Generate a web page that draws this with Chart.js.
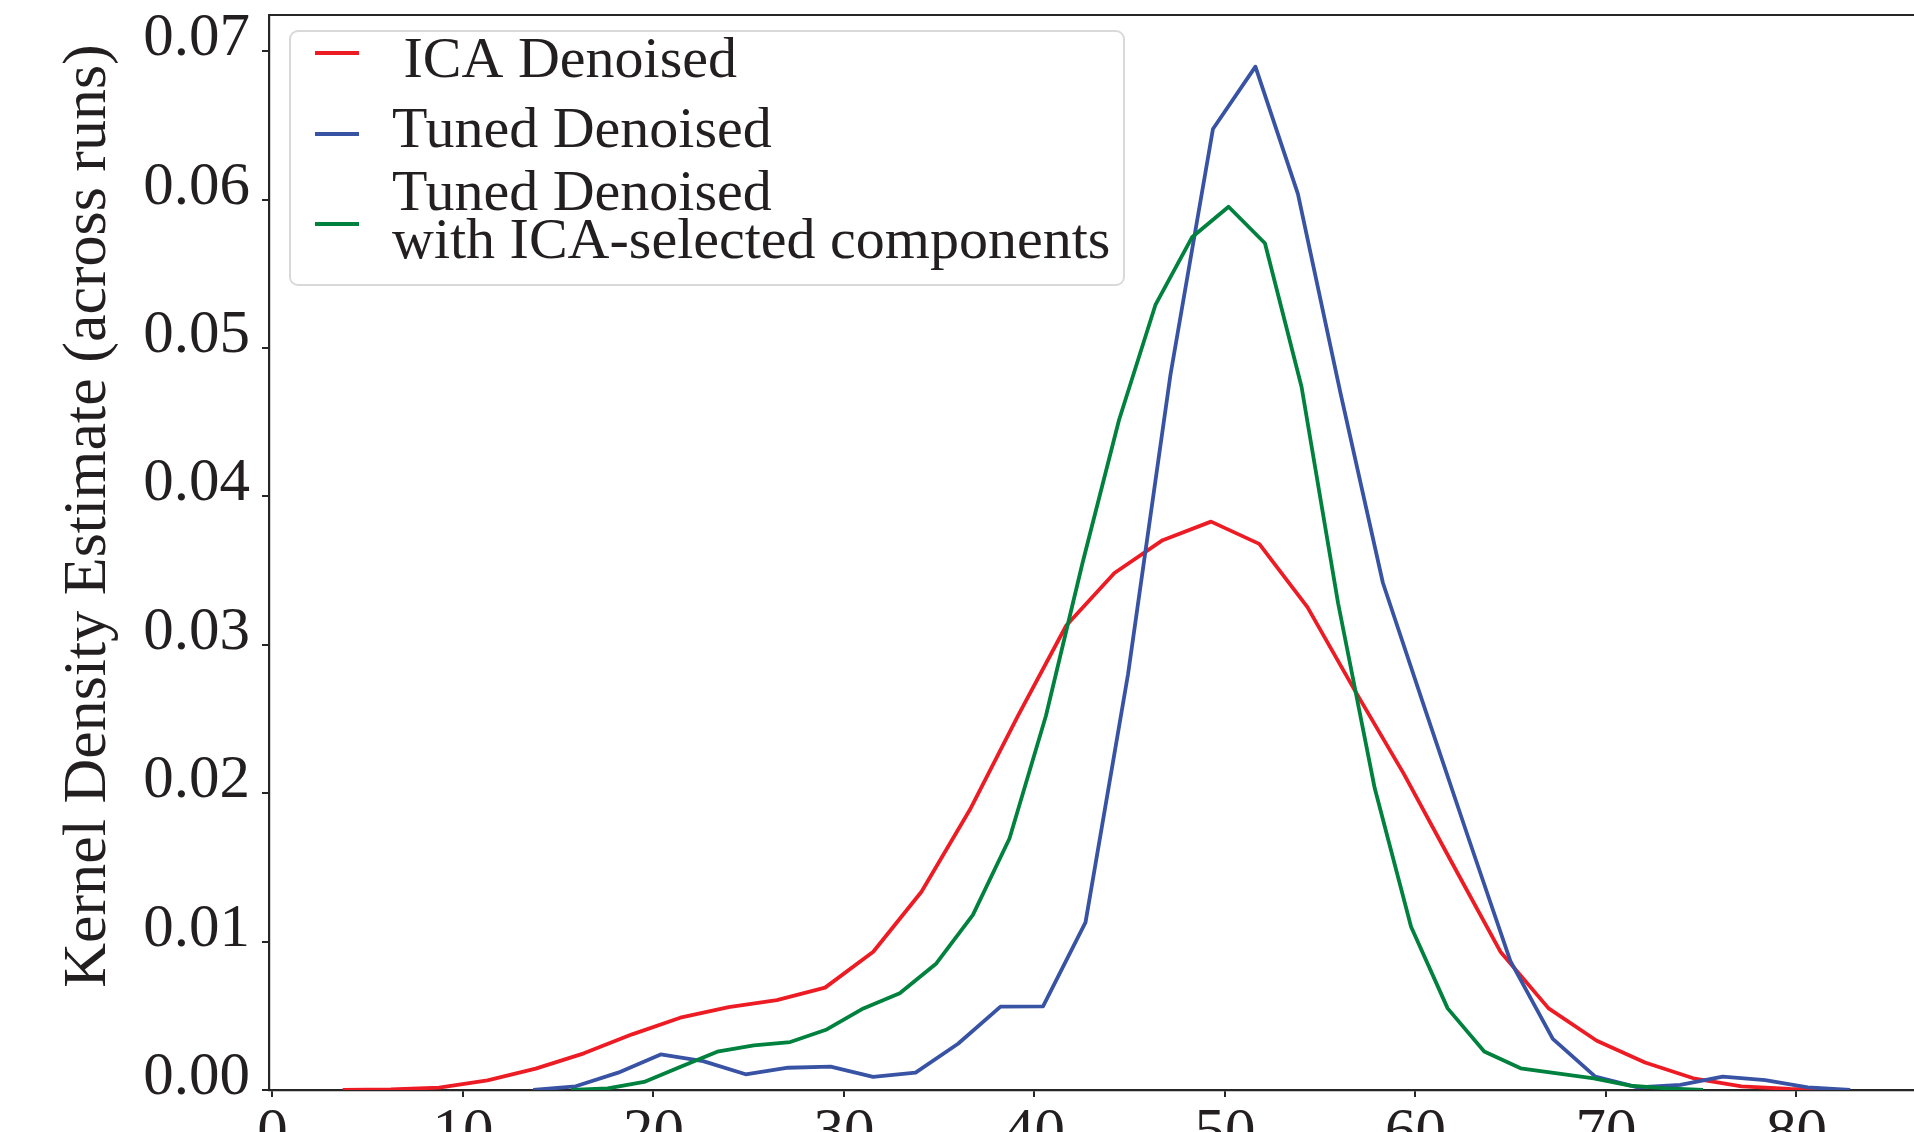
<!DOCTYPE html>
<html lang="en">
<head>
  <meta charset="UTF-8" />
  <title>Kernel Density Estimate (across runs)</title>
  <script src="https://cdn.jsdelivr.net/npm/chart.js"></script>
  <style>
    html, body { margin: 0; padding: 0; background: #fff; overflow: hidden; }
    #kde { display: block; }
  </style>
</head>
<body>
  <canvas id="kde" width="1914" height="1132"></canvas>

  <script>
    // series (KDE curves)
    const icaX = [3.69, 6.22, 8.75, 11.29, 13.82, 16.35, 18.88, 21.41, 23.95, 26.48, 29.01, 31.54, 34.07, 36.61, 39.14, 41.67,
                  44.2, 46.73, 49.27, 51.8, 54.33, 56.86, 59.39, 61.93, 64.46, 66.99, 69.52, 72.05, 74.59, 77.12, 79.65, 82.18];
    const icaY = [0.0000, 0.00004, 0.00016, 0.00065, 0.00144, 0.00247, 0.00375, 0.00487, 0.00559, 0.00606, 0.0069, 0.00932, 0.01336, 0.01888, 0.02523, 0.0313,
                  0.03484, 0.03705, 0.0383, 0.0368, 0.03254, 0.02683, 0.0213, 0.01528, 0.00932, 0.0055, 0.00332, 0.00185, 0.00079, 0.00025, 0.00007, 0.0];

    const tunedX = [13.69, 15.92, 18.15, 20.38, 22.61, 24.84, 27.07, 29.3, 31.53, 33.76, 35.99, 38.22, 40.45, 42.68, 44.91, 47.14,
                    49.37, 51.6, 53.83, 56.06, 58.29, 60.52, 62.75, 64.98, 67.21, 69.44, 71.67, 73.9, 76.13, 78.36, 80.59, 82.82];
    const tunedY = [0.0000, 0.00025, 0.00117, 0.0024, 0.00195, 0.00106, 0.0015, 0.00157, 0.00088, 0.00117, 0.00312, 0.00562, 0.00564, 0.0113, 0.028, 0.0482,
                    0.06476, 0.06896, 0.06038, 0.047, 0.03418, 0.0256, 0.0171, 0.0087, 0.00345, 0.0009, 0.00018, 0.00034, 0.0009, 0.00067, 0.00018, 0.0];

    const tunedIcaX = [15.68, 17.6, 19.51, 21.43, 23.35, 25.27, 27.18, 29.1, 31.02, 32.93, 34.85, 36.77, 38.69, 40.6, 42.52, 44.44,
                       46.35, 48.27, 50.19, 52.1, 54.02, 55.94, 57.86, 59.77, 61.69, 63.61, 65.52, 67.44, 69.36, 71.27, 73.19, 75.1];
    const tunedIcaY = [0.0000, 0.00011, 0.00054, 0.00157, 0.00258, 0.00301, 0.00323, 0.00408, 0.0055, 0.00652, 0.00853, 0.0118, 0.01695, 0.0252, 0.0355, 0.04515,
                       0.0529, 0.05746, 0.05952, 0.05706, 0.04739, 0.0328, 0.02035, 0.011, 0.0055, 0.0026, 0.00146, 0.00112, 0.00079, 0.00029, 0.00011, 0.0];

    const legendLabels = [[' ICA Denoised'], ['Tuned Denoised'], ['Tuned Denoised', 'with ICA-selected components']];
    const lineColors = ['#ed1c24', '#3953a4', '#00813e'];

    // axes
    const xTickValues = [0, 10, 20, 30, 40, 50, 60, 70, 80];
    const yTickValues = [0, 0.01, 0.02, 0.03, 0.04, 0.05, 0.06, 0.07];
    const yAxisTitle = 'Kernel Density Estimate (across runs)';

    const SERIF = "'Liberation Serif', 'DejaVu Serif', serif";
    const INK = '#231f20';
    const SPINE = '#262626';

    const toPoints = (xs, ys) => xs.map((x, i) => ({ x: x, y: ys[i] }));

    // draws the top spine, the y label and the matplotlib-style legend
    const decorations = {
      id: 'decorations',
      afterDraw(chart) {
        const ctx = chart.ctx;
        const area = chart.chartArea;
        ctx.save();

        ctx.strokeStyle = SPINE;
        ctx.lineWidth = 2.2;
        ctx.beginPath();
        ctx.moveTo(area.left - 1, area.top);
        ctx.lineTo(area.right, area.top);
        ctx.stroke();

        ctx.fillStyle = INK;
        ctx.font = '62px ' + SERIF;
        ctx.translate(105, 516);
        ctx.rotate(-Math.PI / 2);
        ctx.textAlign = 'center';
        ctx.textBaseline = 'alphabetic';
        ctx.fillText(yAxisTitle, 0, 0);
        ctx.restore();

        // legend box
        ctx.save();
        const bx = 290, by = 31, bw = 834, bh = 254, r = 8;
        ctx.beginPath();
        ctx.moveTo(bx + r, by);
        ctx.arcTo(bx + bw, by, bx + bw, by + bh, r);
        ctx.arcTo(bx + bw, by + bh, bx, by + bh, r);
        ctx.arcTo(bx, by + bh, bx, by, r);
        ctx.arcTo(bx, by, bx + bw, by, r);
        ctx.closePath();
        ctx.fillStyle = 'rgba(255,255,255,0.8)';
        ctx.fill();
        ctx.strokeStyle = '#d9d9d9';
        ctx.lineWidth = 2;
        ctx.stroke();

        const handleY = [53, 134, 224];
        const textBaselines = [[77], [147], [210, 258]];
        ctx.font = '58px ' + SERIF;
        ctx.fillStyle = INK;
        ctx.textAlign = 'left';
        ctx.textBaseline = 'alphabetic';
        chart.data.datasets.forEach((ds, i) => {
          ctx.strokeStyle = ds.borderColor;
          ctx.lineWidth = 3.8;
          ctx.beginPath();
          ctx.moveTo(315, handleY[i]);
          ctx.lineTo(359, handleY[i]);
          ctx.stroke();
          legendLabels[i].forEach((line, k) => ctx.fillText(line, i === 0 ? 389 : 392, textBaselines[i][k]));
        });
        ctx.restore();
      }
    };

    const makeSet = (label, xs, ys, color, order) => ({
      label: label,
      data: toPoints(xs, ys),
      borderColor: color,
      backgroundColor: color,
      borderWidth: 3.8,
      pointRadius: 0,
      tension: 0,
      fill: false,
      borderJoinStyle: 'round',
      order: order
    });

    new Chart(document.getElementById('kde').getContext('2d'), {
      type: 'line',
      data: {
        datasets: [
          makeSet(legendLabels[0].join(' ').trim(), icaX, icaY, lineColors[0], 3),
          makeSet(legendLabels[1].join(' '), tunedX, tunedY, lineColors[1], 2),
          makeSet(legendLabels[2].join(' '), tunedIcaX, tunedIcaY, lineColors[2], 1)
        ]
      },
      options: {
        responsive: false,
        animation: false,
        layout: { padding: { top: 15, left: 0, right: 0, bottom: 0 } },
        plugins: {
          legend: { display: false },
          tooltip: { enabled: false },
          title: { display: false }
        },
        scales: {
          x: {
            type: 'linear',
            min: -0.18,
            max: 86.17,
            grid: { display: true, drawOnChartArea: false, drawTicks: true, tickLength: 7, color: SPINE, lineWidth: 2 },
            border: { display: true, color: SPINE, width: 2.2 },
            ticks: {
              color: INK,
              font: { family: SERIF, size: 61 },
              padding: 0,
              maxRotation: 0,
              autoSkip: false,
              callback: v => String(v)
            },
            afterBuildTicks: s => { s.ticks = xTickValues.map(v => ({ value: v })); },
            afterFit: s => { s.height = 42; s.paddingLeft = 0; s.paddingRight = 0; }
          },
          y: {
            type: 'linear',
            min: 0,
            max: 0.07244,
            grid: { display: true, drawOnChartArea: false, drawTicks: true, tickLength: 7, color: SPINE, lineWidth: 2 },
            border: { display: true, color: SPINE, width: 2.2 },
            ticks: {
              color: INK,
              font: { family: SERIF, size: 61 },
              padding: 12,
              labelOffset: -12,
              callback: v => v.toFixed(2)
            },
            afterBuildTicks: s => { s.ticks = yTickValues.map(v => ({ value: v })); },
            afterFit: s => { s.width = 269; s.paddingTop = 0; s.paddingBottom = 0; }
          }
        }
      },
      plugins: [decorations]
    });
  </script>
</body>
</html>
